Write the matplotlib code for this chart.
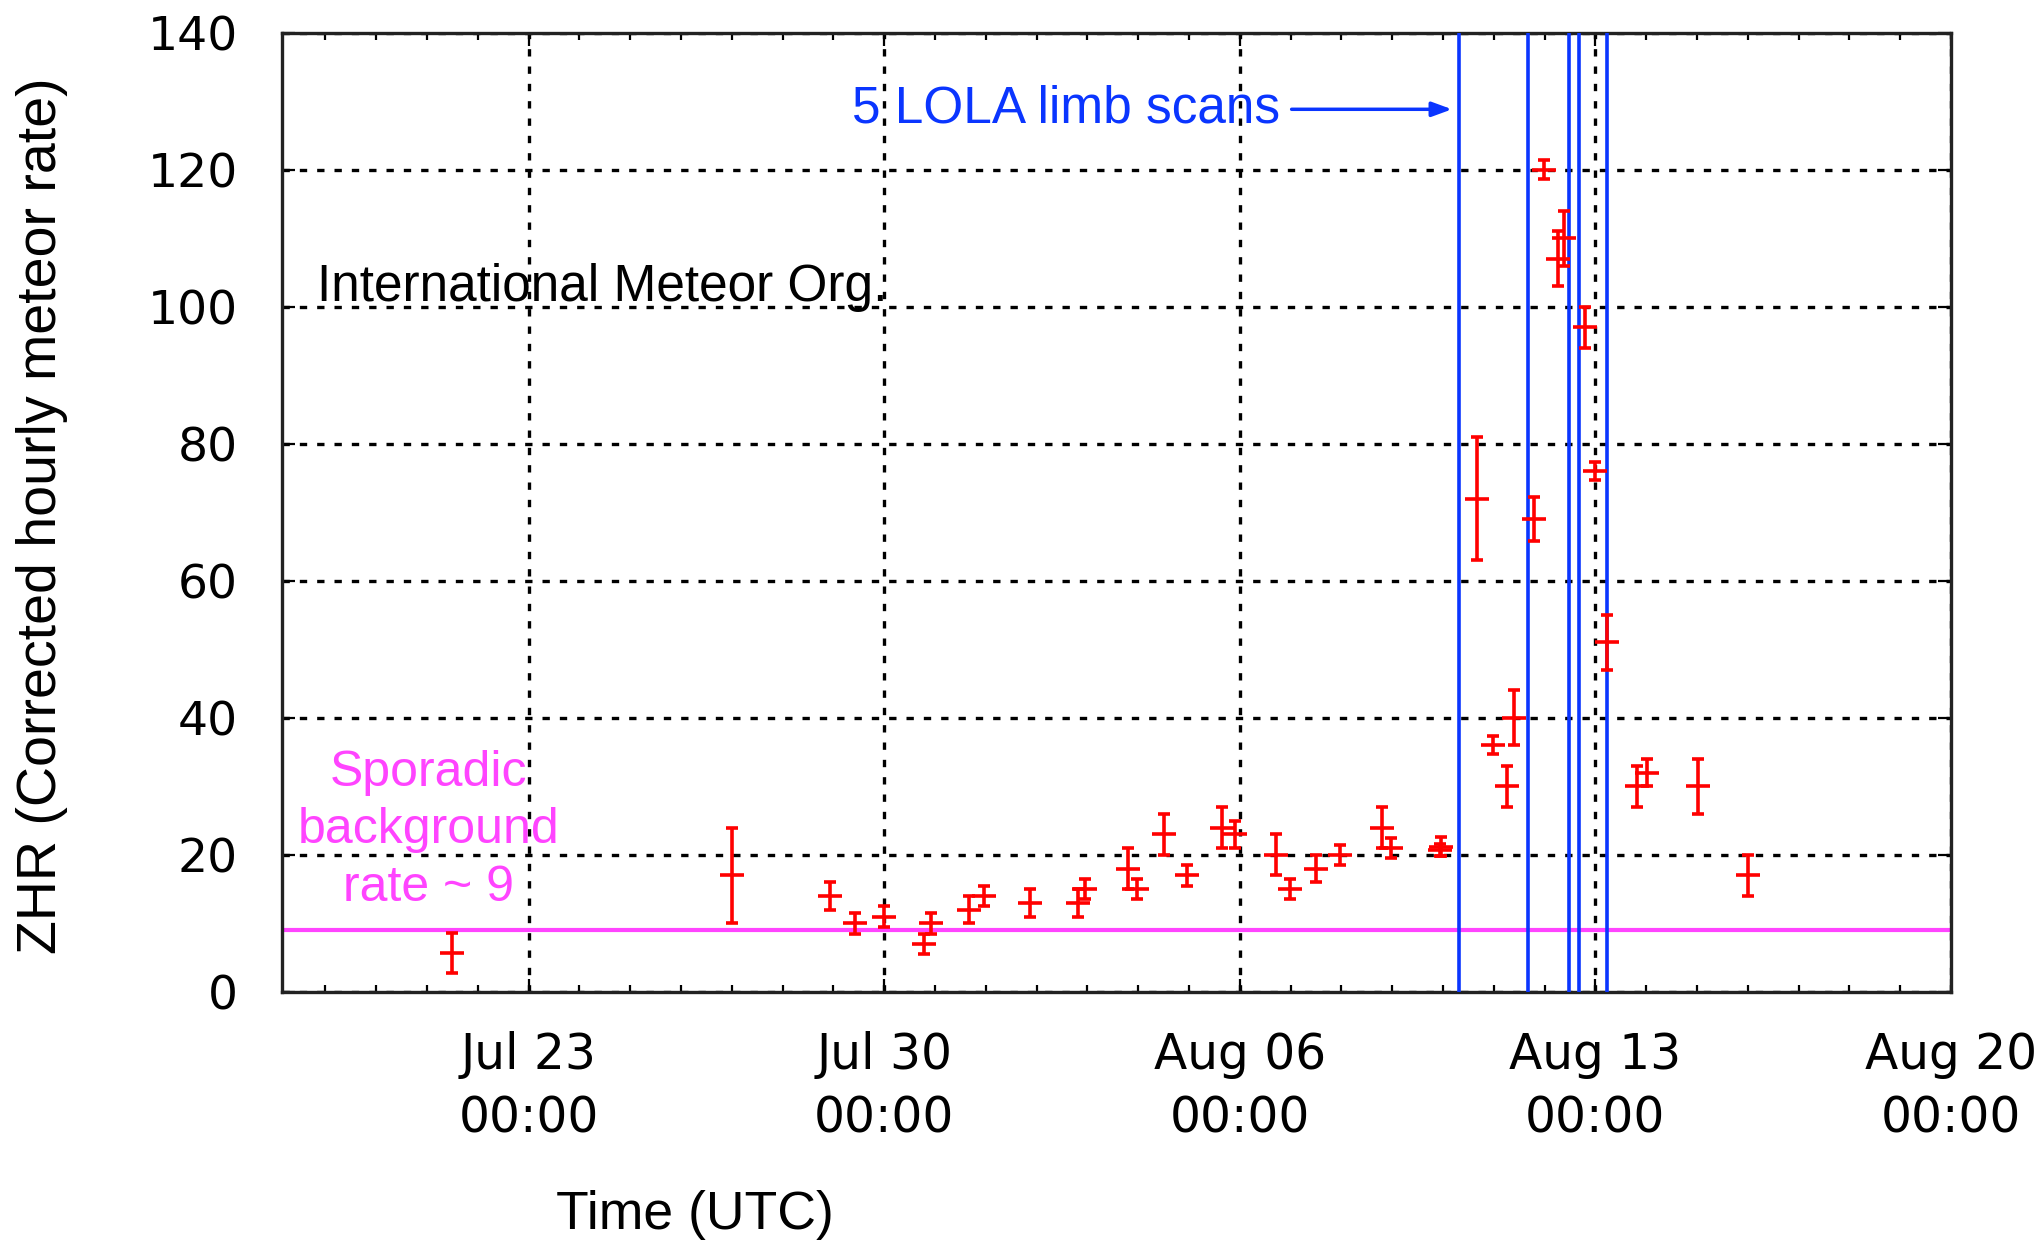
import numpy as np
import pandas as pd
import matplotlib
matplotlib.use("Agg")
import matplotlib.pyplot as plt
import matplotlib.dates as mdates
from matplotlib.ticker import MultipleLocator

obs_time = ["2013-07-21 12:00", "2013-07-27 00:00", "2013-07-28 22:20", "2013-07-29 10:00",
            "2013-07-30 00:00", "2013-07-30 19:00", "2013-07-30 22:00", "2013-07-31 16:00",
            "2013-07-31 23:00", "2013-08-01 21:00", "2013-08-02 19:30", "2013-08-02 23:00",
            "2013-08-03 19:00", "2013-08-03 23:30", "2013-08-04 12:00", "2013-08-04 23:00",
            "2013-08-05 15:30", "2013-08-05 21:30", "2013-08-06 17:00", "2013-08-06 23:30",
            "2013-08-07 12:00", "2013-08-07 23:30", "2013-08-08 19:00", "2013-08-08 23:30",
            "2013-08-09 23:00", "2013-08-09 22:30", "2013-08-10 16:00", "2013-08-10 23:45",
            "2013-08-11 06:15", "2013-08-11 09:30", "2013-08-11 19:00", "2013-08-11 23:45",
            "2013-08-12 06:30", "2013-08-12 09:20", "2013-08-12 19:00", "2013-08-12 23:45",
            "2013-08-13 05:15", "2013-08-13 19:30", "2013-08-14 00:15", "2013-08-15 00:15",
            "2013-08-16 00:15"]
zhr = [5.7, 17, 14, 10, 11, 7, 10, 12, 14, 13, 13, 15, 18, 15, 23, 17, 24, 23, 20, 15,
       18, 20, 24, 21, 21.2, 20.7, 72, 36, 30, 40, 69, 120, 107, 110, 97, 76, 51, 30, 32, 30, 17]
zhr_err = [2.9, 7, 2, 1.5, 1.5, 1.5, 1.5, 2, 1.5, 2, 2, 1.5, 3, 1.5, 3, 1.5, 3, 2, 3, 1.5,
           2, 1.5, 3, 1.5, 1.4, 0.9, 9, 1.3, 3, 4, 3.2, 1.4, 4, 4, 3, 1.3, 4, 3, 2, 4, 3]

# LOLA limb scan times
scan_time = ["2013-08-10 07:30", "2013-08-11 16:00", "2013-08-12 11:30",
             "2013-08-12 16:20", "2013-08-13 05:15"]
sporadic_rate = 9

week_ticks = ["2013-07-23", "2013-07-30", "2013-08-06", "2013-08-13", "2013-08-20"]

t = pd.to_datetime(obs_time)
scans = pd.to_datetime(scan_time)

fig = plt.figure(figsize=(20.38, 12.42), dpi=100)
ax = fig.add_axes([0.1384, 0.2013, 0.8189, 0.7725])

ax.axhline(sporadic_rate, color="#ff44ff", lw=3, zorder=2)
for s in scans:
    ax.axvline(s, color="#0a35ff", lw=2.6, zorder=3)

ax.errorbar(t, zhr, yerr=zhr_err, fmt="none", ecolor="#ff0000", elinewidth=2.6,
            capsize=4.2, capthick=2.6, zorder=4)
ax.plot(t, zhr, ls="none", marker="_", ms=17, mew=2.6, color="#ff0000", zorder=4)

ax.set_xlim(pd.Timestamp("2013-07-18 03:30"), pd.Timestamp("2013-08-20 00:00"))
ax.set_ylim(0, 140)
ax.yaxis.set_major_locator(MultipleLocator(20))
ax.set_xticks(pd.to_datetime(week_ticks))
ax.xaxis.set_minor_locator(mdates.DayLocator())
ax.xaxis.set_major_formatter(mdates.DateFormatter("%b %d\n%H:%M"))

ax.grid(True, which="major", color="black", lw=2.4, linestyle=(0, (2.2, 3.0)), zorder=1)

for sp in ax.spines.values():
    sp.set_linewidth(2.4)
    sp.set_color("#222222")
ax.tick_params(which="both", direction="in", top=True, right=True, width=1.6)
ax.tick_params(which="major", length=9.5)
ax.tick_params(which="minor", length=5)
ax.tick_params(axis="y", labelsize=34, pad=32)
ax.tick_params(axis="x", labelsize=35, pad=28)
for lab in ax.get_xticklabels():
    lab.set_family("DejaVu Sans")
    lab.set_linespacing(1.42)
for lab in ax.get_yticklabels():
    lab.set_family("DejaVu Sans")

ax.set_xlabel("Time (UTC)", fontsize=38.5, family="Liberation Sans")
ax.xaxis.set_label_coords(0.2475, -0.232)
ax.xaxis.label.set_va("center")
ax.set_ylabel("ZHR (Corrected hourly meteor rate)", fontsize=40, family="Liberation Sans")
ax.yaxis.set_label_coords(-0.1438, 0.496)
ax.yaxis.label.set_va("center")

ax.text(0.021, 0.734, "International Meteor Org.", transform=ax.transAxes,
        fontsize=37, family="Liberation Sans", color="black", va="center", ha="left")
ax.text(0.088, 0.1688, "Sporadic\nbackground\nrate ~ 9", transform=ax.transAxes,
        fontsize=36, family="Liberation Sans", color="#ff44ff", va="center", ha="center",
        multialignment="center", linespacing=1.32)
ax.annotate("5 LOLA limb scans", xy=(0.701, 0.920), xytext=(0.470, 0.920),
            xycoords="axes fraction", textcoords="axes fraction",
            fontsize=37, family="Liberation Sans", color="#0a35ff", va="center", ha="center",
            arrowprops=dict(arrowstyle="-|>,head_length=0.6,head_width=0.22",
                            mutation_scale=20, color="#0a35ff", lw=2.5,
                            shrinkA=6, shrinkB=0))

fig.savefig("out.png", dpi=100)
